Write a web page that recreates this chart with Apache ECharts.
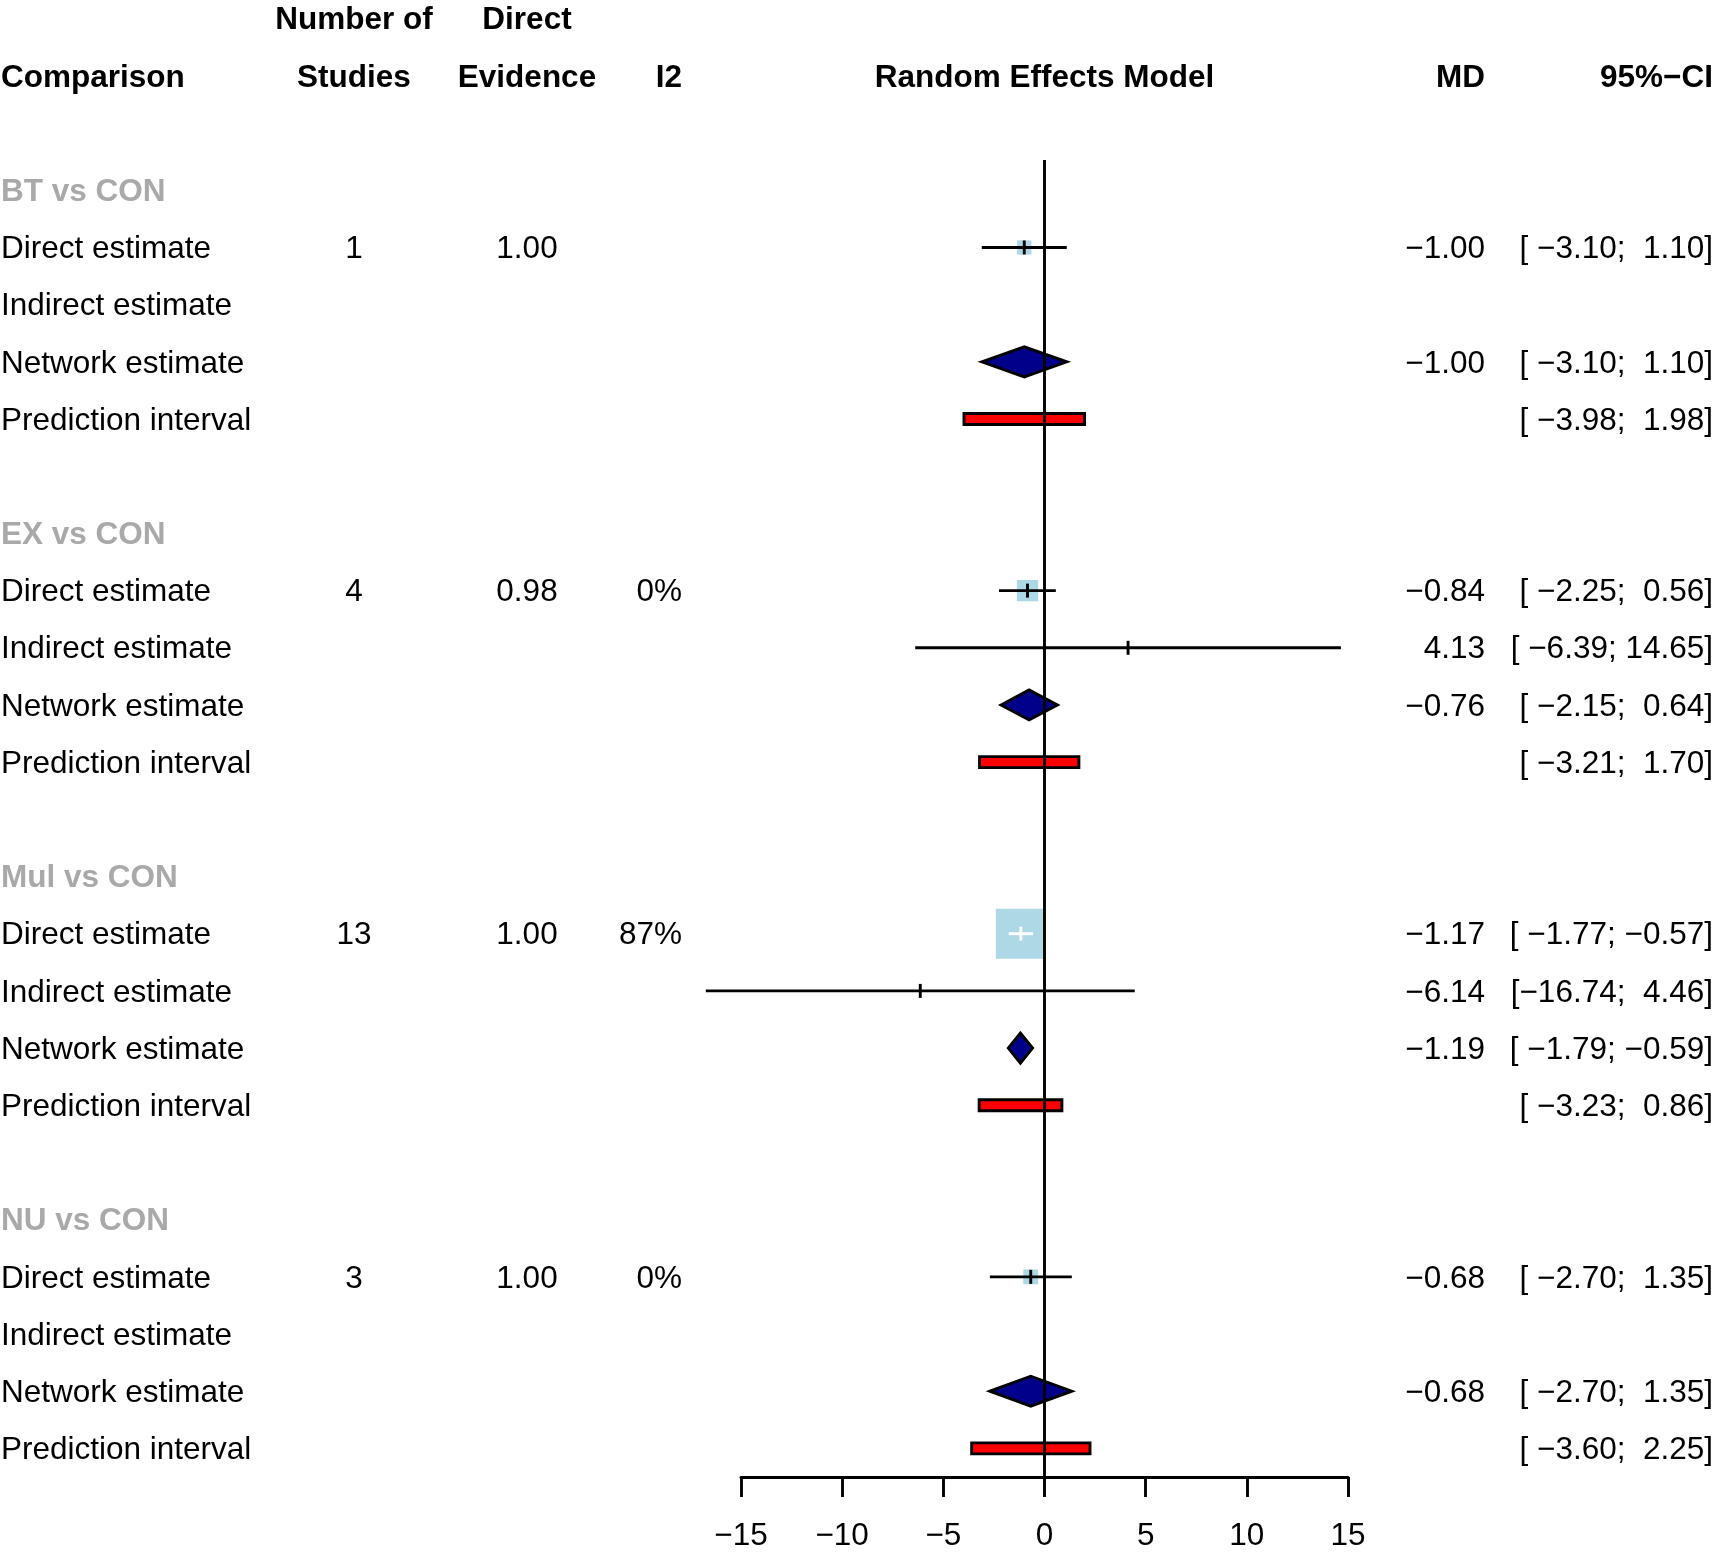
<!DOCTYPE html>
<html><head><meta charset="utf-8">
<script src="https://cdn.jsdelivr.net/npm/echarts@6/dist/echarts.min.js"></script>
<style>html,body{margin:0;padding:0;background:#fff}#c{width:1717px;height:1562px}</style>
</head><body><div id="c"></div>
<script>
// ---------------- data ----------------
const comparisons = ['BT vs CON', 'EX vs CON', 'Mul vs CON', 'NU vs CON'];
const estimateLabels = ['Direct estimate', 'Indirect estimate', 'Network estimate', 'Prediction interval'];
const numberOfStudies = [1, 4, 13, 3];
const directEvidence = [1.00, 0.98, 1.00, 1.00];
const i2Percent = [null, 0, 87, 0];
const directMD = [-1.00, -0.84, -1.17, -0.68];
const directLower = [-3.10, -2.25, -1.77, -2.70];
const directUpper = [1.10, 0.56, -0.57, 1.35];
const indirectMD = [null, 4.13, -6.14, null];
const indirectLower = [null, -6.39, -16.74, null];
const indirectUpper = [null, 14.65, 4.46, null];
const networkMD = [-1.00, -0.76, -1.19, -0.68];
const networkLower = [-3.10, -2.15, -1.79, -2.70];
const networkUpper = [1.10, 0.64, -0.59, 1.35];
const predictionLower = [-3.98, -3.21, -3.23, -3.60];
const predictionUpper = [1.98, 1.70, 0.86, 2.25];
const xTicks = [-15, -10, -5, 0, 5, 10, 15];
const xTickLabels = ['\u221215', '\u221210', '\u22125', '0', '5', '10', '15'];
const headerTop = ['', 'Number of', 'Direct', '', '', '', ''];
const headerBottom = ['Comparison', 'Studies', 'Evidence', 'I2', 'Random Effects Model', 'MD', '95%\u2212CI'];

// ---------------- layout / style ----------------
const FONT = "'Liberation Sans', Arial, Helvetica, sans-serif";
const FS = 31.5;
const LW = 2.9;
const columns = [
  {x: 1, align: 'left'},      // comparison / labels
  {x: 354, align: 'center'},  // studies
  {x: 527, align: 'center'},  // direct evidence
  {x: 682, align: 'right'},   // I2
  {x: 'zero', align: 'center'}, // model header
  {x: 1485, align: 'right'},  // MD
  {x: 1713, align: 'right'}   // CI
];

const minus = s => s.replace(/-/g, '\u2212');
const f2 = v => minus(v.toFixed(2));
// R-like fixed width CI formatting
const allLower = [...directLower, ...indirectLower, ...networkLower, ...predictionLower].filter(v => v != null);
const allUpper = [...directUpper, ...indirectUpper, ...networkUpper, ...predictionUpper].filter(v => v != null);
const wLo = Math.max(...allLower.map(v => v.toFixed(2).length));
const wHi = Math.max(...allUpper.map(v => v.toFixed(2).length));
const pad = (s, w) => ' '.repeat(Math.max(0, w - s.length)) + s;
const ciText = (lo, hi) => minus('[' + pad(lo.toFixed(2), wLo) + '; ' + pad(hi.toFixed(2), wHi) + ']');

// rows: -1,0 headers; group g title at 2+6g, then 4 estimate rows
const textItems = [];
headerTop.forEach((t, c) => { if (t) textItems.push({row: -1, col: c, text: t, bold: true}); });
headerBottom.forEach((t, c) => { if (t) textItems.push({row: 0, col: c, text: t, bold: true}); });
comparisons.forEach((name, g) => {
  const base = 2 + 6 * g;
  textItems.push({row: base, col: 0, text: name, bold: true, color: '#a9a9a9'});
  estimateLabels.forEach((lab, k) => textItems.push({row: base + 1 + k, col: 0, text: lab}));
  textItems.push({row: base + 1, col: 1, text: String(numberOfStudies[g])});
  textItems.push({row: base + 1, col: 2, text: directEvidence[g].toFixed(2)});
  if (i2Percent[g] != null) textItems.push({row: base + 1, col: 3, text: i2Percent[g] + '%'});
  textItems.push({row: base + 1, col: 5, text: f2(directMD[g])});
  textItems.push({row: base + 1, col: 6, text: ciText(directLower[g], directUpper[g])});
  if (indirectMD[g] != null) {
    textItems.push({row: base + 2, col: 5, text: f2(indirectMD[g])});
    textItems.push({row: base + 2, col: 6, text: ciText(indirectLower[g], indirectUpper[g])});
  }
  textItems.push({row: base + 3, col: 5, text: f2(networkMD[g])});
  textItems.push({row: base + 3, col: 6, text: ciText(networkLower[g], networkUpper[g])});
  textItems.push({row: base + 4, col: 6, text: ciText(predictionLower[g], predictionUpper[g])});
});

const squareData = comparisons.map((_, g) => [directMD[g], 3 + 6 * g, directLower[g], directUpper[g]]);
const ciData = [];
comparisons.forEach((_, g) => {
  ciData.push([directMD[g], 3 + 6 * g, directLower[g], directUpper[g], 1]);
  if (indirectMD[g] != null) ciData.push([indirectMD[g], 4 + 6 * g, indirectLower[g], indirectUpper[g], 0]);
});
const diamondData = comparisons.map((_, g) => [networkMD[g], 5 + 6 * g, networkLower[g], networkUpper[g]]);
const predData = comparisons.map((_, g) => [predictionLower[g], 6 + 6 * g, predictionUpper[g]]);

const SQ = 15.3; // px per sqrt(weight)
const squareSide = (lo, hi) => SQ * 3.92 / (hi - lo);

const chart = echarts.init(document.getElementById('c'), null, {renderer: 'canvas'});
chart.setOption({
  animation: false,
  backgroundColor: '#fff',
  grid: {left: 741, right: 369, top: 161.7, bottom: 85, containLabel: false, outerBoundsMode: 'none'},
  xAxis: {
    type: 'value', min: -15, max: 15, interval: 5,
    axisLine: {show: true, lineStyle: {color: '#000', width: LW}},
    axisTick: {show: true, length: 20, lineStyle: {color: '#000', width: LW}},
    axisLabel: {margin: 43, color: '#000', fontSize: FS, fontFamily: FONT,
      formatter: v => xTickLabels[xTicks.indexOf(v)]},
    splitLine: {show: false}
  },
  yAxis: {type: 'value', min: 1.5, max: 24.5, inverse: true, show: false},
  series: [
    { // text table
      type: 'custom', z: 5, silent: true, clip: false,
      data: textItems.map(t => [0, t.row]),
      renderItem: (params, api) => {
        const it = textItems[params.dataIndex];
        const p = api.coord([0, it.row]);
        const c = columns[it.col];
        const x = c.x === 'zero' ? p[0] : c.x;
        return {type: 'text', x: x, y: p[1] + 2, style: {
          text: it.text, align: c.align, verticalAlign: 'middle',
          fill: it.color || '#000', fontSize: FS, fontFamily: FONT,
          fontWeight: it.bold ? 'bold' : 'normal'}};
      }
    },
    { // direct squares
      type: 'custom', z: 1, silent: true, clip: false,
      data: squareData,
      renderItem: (params, api) => {
        const c = api.coord([api.value(0), api.value(1)]);
        const s = squareSide(api.value(2), api.value(3));
        return {type: 'rect', shape: {x: c[0] - s / 2, y: c[1] - s / 2, width: s, height: s},
          style: {fill: '#add8e6'}};
      }
    },
    { // CI lines + estimate ticks
      type: 'custom', z: 2, silent: true, clip: false,
      data: ciData,
      renderItem: (params, api) => {
        const c = api.coord([api.value(0), api.value(1)]);
        const l = api.coord([api.value(2), api.value(1)]);
        const h = api.coord([api.value(3), api.value(1)]);
        let col = '#000';
        if (api.value(4) === 1) {
          const s = squareSide(api.value(2), api.value(3));
          if (l[0] >= c[0] - s / 2 && h[0] <= c[0] + s / 2) col = '#fff';
        }
        return {type: 'group', children: [
          {type: 'line', shape: {x1: l[0], y1: c[1], x2: h[0], y2: c[1]}, style: {stroke: col, lineWidth: LW}},
          {type: 'line', shape: {x1: c[0], y1: c[1] - 7, x2: c[0], y2: c[1] + 7}, style: {stroke: col, lineWidth: LW}}
        ]};
      }
    },
    { // network diamonds
      type: 'custom', z: 2, silent: true, clip: false,
      data: diamondData,
      renderItem: (params, api) => {
        const c = api.coord([api.value(0), api.value(1)]);
        const l = api.coord([api.value(2), api.value(1)]);
        const h = api.coord([api.value(3), api.value(1)]);
        return {type: 'polygon', shape: {points: [[l[0], c[1]], [c[0], c[1] - 15], [h[0], c[1]], [c[0], c[1] + 15]]},
          style: {fill: '#00008b', stroke: '#000', lineWidth: LW, lineJoin: 'miter'}};
      }
    },
    { // prediction intervals
      type: 'custom', z: 2, silent: true, clip: false,
      data: predData,
      renderItem: (params, api) => {
        const l = api.coord([api.value(0), api.value(1)]);
        const h = api.coord([api.value(2), api.value(1)]);
        return {type: 'rect', shape: {x: l[0], y: l[1] - 5.5, width: h[0] - l[0], height: 11},
          style: {fill: '#ff0000', stroke: '#000', lineWidth: LW}};
      }
    },
    { // reference line at 0
      type: 'custom', z: 4, silent: true, clip: false,
      data: [[0, 1.47, 24.5]],
      renderItem: (params, api) => {
        const a = api.coord([api.value(0), api.value(1)]);
        const b = api.coord([api.value(0), api.value(2)]);
        return {type: 'line', shape: {x1: a[0], y1: a[1], x2: b[0], y2: b[1]}, style: {stroke: '#000', lineWidth: LW}};
      }
    }
  ]
});
</script>
</body></html>
